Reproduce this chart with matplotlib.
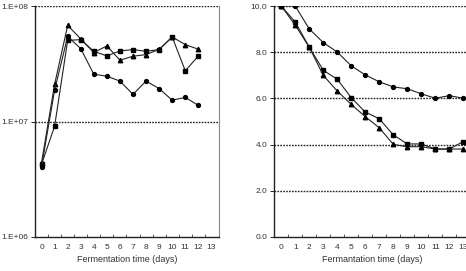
import numpy as np
import matplotlib
matplotlib.use("Agg")
import matplotlib.pyplot as plt

plt.rcParams['font.family'] = ['Liberation Sans', 'DejaVu Sans']

days = list(range(13))
days_b = list(range(14))

# left panel: cell counts (log scale)
cells_tri = [4.4e6, 2.1e7, 6.8e7, 5.2e7, 3.96e7, 4.52e7, 3.40e7, 3.68e7, 3.80e7, 4.23e7, 5.4e7, 4.64e7, 4.23e7]
cells_sq = [4.26e6, 9.1e6, 5.05e7, 5.12e7, 4.06e7, 3.70e7, 4.09e7, 4.20e7, 4.06e7, 4.20e7, 5.4e7, 2.75e7, 3.70e7]
cells_ci = [4.07e6, 1.87e7, 5.47e7, 4.28e7, 2.57e7, 2.47e7, 2.24e7, 1.72e7, 2.24e7, 1.93e7, 1.53e7, 1.62e7, 1.38e7]

# right panel
val_ci = [10.0, 10.0, 9.01, 8.42, 8.01, 7.41, 7.02, 6.72, 6.50, 6.42, 6.20, 6.01, 6.12, 6.01]
val_sq = [10.0, 9.31, 8.22, 7.22, 6.83, 6.03, 5.41, 5.12, 4.42, 4.03, 4.03, 3.81, 3.81, 4.13]
val_tri = [10.0, 9.17, 8.22, 7.00, 6.32, 5.74, 5.21, 4.73, 4.01, 3.91, 3.91, 3.81, 3.81, 3.81]

left_yticks = [1e6, 1e7, 1e8]
left_ylabels = ['1.E+06', '1.E+07', '1.E+08']
right_yticks = [0, 2, 4, 6, 8, 10]

txt = '#333333'
line_kw = dict(color='#222222', lw=0.8, mfc='black', mec='black')
grid_kw = dict(color='#222222', lw=1.0, linestyle=(0, (1.2, 0.9)), zorder=1)

fig = plt.figure(figsize=(4.66, 2.71), dpi=100)
ax1 = fig.add_axes([0.0751, 0.1255, 0.394, 0.852])
ax2 = fig.add_axes([0.5886, 0.1255, 0.4206, 0.852])

# left chart
ax1.set_yscale('log')
ax1.plot(days, cells_tri, marker='^', ms=3.2, **line_kw)
ax1.plot(days, cells_sq, marker='s', ms=3.0, **line_kw)
ax1.plot(days, cells_ci, marker='o', ms=2.8, **line_kw)
for v in [1e7, 1e8]:
    ax1.axhline(v, **grid_kw)
ax1.set_ylim(1e6, 1e8)
ax1.set_yticks(left_yticks)
ax1.set_yticklabels(left_ylabels)
ax1.yaxis.set_minor_locator(matplotlib.ticker.NullLocator())
ax1.set_xlim(-0.5, 13.55)
ax1.set_xlabel('Fermentation time (days)', fontsize=6.5, color=txt, labelpad=3)
ax1.spines['top'].set_visible(False)
ax1.spines['right'].set_color('#888888')

# right chart
ax2.plot(days_b, val_ci, marker='o', ms=2.8, **line_kw)
ax2.plot(days_b, val_sq, marker='s', ms=3.0, **line_kw)
ax2.plot(days_b, val_tri, marker='^', ms=3.2, **line_kw)
for v in [2, 4, 6, 8, 10]:
    ax2.axhline(v, **grid_kw)
ax2.set_ylim(0, 10)
ax2.set_yticks(right_yticks)
ax2.set_yticklabels(['%.1f' % v for v in right_yticks])
ax2.set_xlim(-0.5, 13.5)
ax2.set_xlabel('Fermantation time (days)', fontsize=6.5, color=txt, labelpad=3)
ax2.spines['top'].set_visible(False)
ax2.spines['right'].set_visible(False)

for ax, n in [(ax1, 13), (ax2, 14)]:
    ax.set_xticks(range(14))
    ax.set_xticks(np.arange(0.5, n, 1), minor=True)
    ax.tick_params(axis='x', which='major', length=0, labelsize=6, labelcolor=txt, pad=5)
    ax.tick_params(axis='x', which='minor', direction='in', length=2.5, width=0.6, color='#444444')
    ax.tick_params(axis='y', which='major', length=3, width=0.6, labelsize=6, labelcolor=txt, pad=2)
    ax.spines['left'].set_linewidth(1.0)
    ax.spines['bottom'].set_linewidth(1.0)
    ax.spines['left'].set_color('#222222')
    ax.spines['bottom'].set_color('#222222')

fig.savefig('out.png', dpi=100)
